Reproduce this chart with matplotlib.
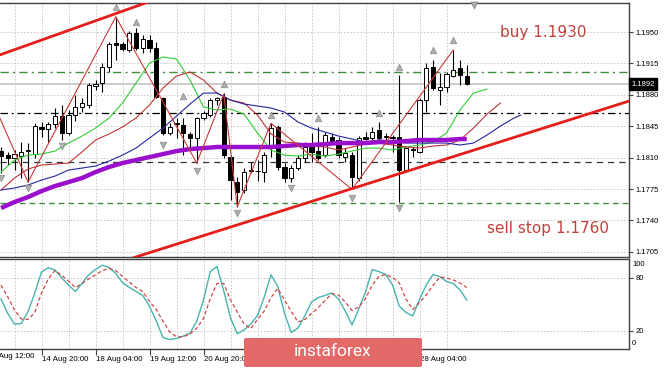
import numpy as np
import matplotlib
matplotlib.use("Agg")
import matplotlib.pyplot as plt
from matplotlib import transforms
from matplotlib.patches import FancyBboxPatch

plt.rcParams['font.family'] = ['Liberation Sans', 'DejaVu Sans']

# H4 candles
opens = [1.18177, 1.18129, 1.18099, 1.18122, 1.18177, 1.18137, 1.18445, 1.18419, 1.18472, 1.18564,
         1.18375, 1.18575, 1.18668, 1.18687, 1.18898, 1.18929, 1.19114, 1.19374, 1.19367, 1.19300,
         1.19486, 1.19319, 1.19411, 1.19319, 1.18761, 1.18371, 1.18480, 1.18464, 1.18364, 1.18316,
         1.18538, 1.18575, 1.18742, 1.18779, 1.18110, 1.17832, 1.17739, 1.17957, 1.17953, 1.17943,
         1.18222, 1.18445, 1.17999, 1.17870, 1.17988, 1.18093, 1.18222, 1.18174, 1.18129, 1.18333,
         1.18297, 1.18110, 1.18129, 1.17870, 1.18333, 1.18316, 1.18408, 1.18333, 1.18325, 1.18333,
         1.17962, 1.18188, 1.18166, 1.18742, 1.19114, 1.18854, 1.18891, 1.19010, 1.19096, 1.19010]
highs = [1.18222, 1.18166, 1.18185, 1.18278, 1.18263, 1.18486, 1.18501, 1.18501, 1.18653, 1.18687,
         1.18631, 1.18798, 1.18765, 1.18932, 1.18965, 1.19155, 1.19392, 1.19671, 1.19392, 1.19512,
         1.19545, 1.19467, 1.19467, 1.19392, 1.18779, 1.18483, 1.18542, 1.18542, 1.18389, 1.18556,
         1.18620, 1.18765, 1.18779, 1.18820, 1.18129, 1.17888, 1.17981, 1.18055, 1.18074, 1.18166,
         1.18483, 1.18464, 1.18037, 1.18018, 1.18129, 1.18278, 1.18375, 1.18442, 1.18389, 1.18371,
         1.18333, 1.18204, 1.18166, 1.18341, 1.18389, 1.18445, 1.18501, 1.18371, 1.18352, 1.19021,
         1.18222, 1.18222, 1.18761, 1.19155, 1.19188, 1.19040, 1.19055, 1.19300, 1.19188, 1.19133]
lows = [1.17929, 1.18018, 1.17962, 1.17873, 1.17828, 1.18096, 1.18333, 1.18278, 1.18430, 1.18297,
        1.18352, 1.18508, 1.18612, 1.18657, 1.18854, 1.18835, 1.19058, 1.19188, 1.19294, 1.19281,
        1.19300, 1.19266, 1.19281, 1.18765, 1.18352, 1.18352, 1.18319, 1.18129, 1.18207, 1.18040,
        1.18520, 1.18556, 1.18687, 1.18096, 1.17628, 1.17553, 1.17706, 1.17926, 1.17840, 1.17832,
        1.18110, 1.17962, 1.17832, 1.17832, 1.17962, 1.18055, 1.18055, 1.18074, 1.18110, 1.18278,
        1.18093, 1.18055, 1.17747, 1.17840, 1.18297, 1.18297, 1.18278, 1.18297, 1.18166, 1.17609,
        1.17943, 1.18110, 1.18148, 1.18612, 1.18854, 1.18687, 1.18835, 1.19002, 1.18910, 1.18910]
closes = [1.18122, 1.18093, 1.18140, 1.18166, 1.18185, 1.18456, 1.18419, 1.18472, 1.18567, 1.18371,
          1.18575, 1.18668, 1.18706, 1.18910, 1.18921, 1.19114, 1.19363, 1.19355, 1.19311, 1.19486,
          1.19319, 1.19419, 1.19319, 1.18779, 1.18371, 1.18445, 1.18492, 1.18371, 1.18316, 1.18545,
          1.18601, 1.18742, 1.18765, 1.18129, 1.17851, 1.17720, 1.17943, 1.17965, 1.17946, 1.18129,
          1.18427, 1.17999, 1.17870, 1.17988, 1.18099, 1.18222, 1.18166, 1.18099, 1.18352, 1.18285,
          1.18129, 1.18148, 1.17888, 1.18322, 1.18308, 1.18389, 1.18322, 1.18340, 1.18318, 1.17962,
          1.18204, 1.18197, 1.18742, 1.19096, 1.18873, 1.18891, 1.19029, 1.19077, 1.19021, 1.18917]

# alligator lines (shifted forward) and the slow MA, every second bar
lips = [1.17940, 1.18074, 1.18129, 1.18140, 1.18174, 1.18263, 1.18341, 1.18430, 1.18542, 1.18709,
        1.18932, 1.19155, 1.19222, 1.19199, 1.18965, 1.18664, 1.18631, 1.18642, 1.18586, 1.18375,
        1.18185, 1.18129, 1.18118, 1.18140, 1.18118, 1.18140, 1.18174, 1.18207, 1.18207, 1.18185,
        1.18219, 1.18241, 1.18274, 1.18375, 1.18631, 1.18820, 1.18865]
teeth = [1.17739, 1.17873, 1.17973, 1.18018, 1.18029, 1.18040, 1.18163, 1.18297, 1.18364, 1.18442,
         1.18542, 1.18687, 1.18876, 1.19010, 1.19055, 1.18965, 1.18820, 1.18742, 1.18709, 1.18575,
         1.18364, 1.18274, 1.18263, 1.18230, 1.18219, 1.18185, 1.18219, 1.18252, 1.18263, 1.18241,
         1.18219, 1.18207, 1.18230, 1.18241, 1.18297, 1.18430, 1.18586, 1.18709]
jaw = [1.17739, 1.17762, 1.17795, 1.17851, 1.17895, 1.17962, 1.17984, 1.18007, 1.18062, 1.18129,
       1.18207, 1.18319, 1.18430, 1.18564, 1.18698, 1.18820, 1.18820, 1.18742, 1.18698, 1.18676,
       1.18653, 1.18609, 1.18497, 1.18430, 1.18386, 1.18341, 1.18308, 1.18274, 1.18297, 1.18285,
       1.18263, 1.18263, 1.18263, 1.18263, 1.18241, 1.18263, 1.18352, 1.18453, 1.18542, 1.18575]
slow_ma = [1.17539, 1.17606, 1.17661, 1.17728, 1.17784, 1.17828, 1.17873, 1.17940, 1.17996, 1.18040,
           1.18074, 1.18107, 1.18140, 1.18174, 1.18196, 1.18207, 1.18219, 1.18219, 1.18219, 1.18219,
           1.18219, 1.18230, 1.18241, 1.18241, 1.18252, 1.18263, 1.18263, 1.18263, 1.18274, 1.18274,
           1.18285, 1.18297, 1.18297, 1.18297, 1.18308, 1.18308]

zz_bar = [-2, 4, 17, 29, 33, 35, 40, 52, 67]
zz_price = [1.18855, 1.17828, 1.19671, 1.18040, 1.18809, 1.17553, 1.18483, 1.17747, 1.19300]

frac_up_bar = [17, 20, 27, 33, 40, 47, 56, 59, 64, 67]
frac_up = [1.19779, 1.19612, 1.18787, 1.18921, 1.18575, 1.18542, 1.18598, 1.19110, 1.19300, 1.19411]
frac_dn_bar = [0, 4, 9, 24, 29, 35, 43, 52, 59]
frac_dn = [1.17873, 1.17762, 1.18230, 1.18241, 1.17951, 1.17483, 1.17762, 1.17650, 1.17539]

stoch_main = [56.0, 39.7, 27.8, 28.4, 41.7, 62.8, 86.5, 91.3, 88.7, 79.7,
              71.8, 64.5, 73.5, 83.4, 89.3, 94.1, 91.5, 84.8, 74.4, 69.2,
              64.5, 60.0, 47.6, 31.2, 12.6, 10.4, 11.5, 14.3, 17.4, 31.2,
              54.9, 87.0, 92.7, 65.1, 34.6, 16.9, 21.1, 27.8, 37.4, 58.3,
              83.4, 70.1, 39.7, 18.3, 23.3, 36.9, 52.6, 57.7, 60.0, 62.8,
              56.0, 42.5, 26.7, 44.8, 63.9, 89.3, 86.8, 83.7, 71.8, 48.1,
              40.8, 36.9, 55.5, 71.8, 83.7, 81.2, 75.8, 73.5, 66.2, 54.9]
stoch_signal = [71.8, 58.3, 43.6, 33.5, 32.9, 40.8, 62.8, 78.6, 88.2, 82.5,
                76.3, 69.0, 73.5, 78.6, 83.1, 88.2, 90.4, 87.9, 81.4, 75.2,
                69.0, 64.5, 53.2, 44.2, 31.2, 18.8, 13.5, 13.5, 16.6, 23.3,
                34.0, 56.6, 73.5, 73.5, 54.9, 41.4, 27.8, 22.8, 32.9, 42.5,
                57.7, 67.9, 54.9, 41.9, 30.1, 32.9, 39.7, 46.4, 54.3, 62.0,
                60.5, 52.6, 43.1, 47.0, 56.6, 71.8, 81.4, 83.7, 80.3, 74.1,
                56.0, 44.2, 52.1, 60.5, 71.3, 80.8, 79.7, 77.5, 74.1, 69.0]

price_ticks = [1.1705, 1.1740, 1.1775, 1.1810, 1.1845, 1.1880, 1.1915, 1.1950]
date_bar = [-2, 6, 14, 22, 30, 38, 46, 54, 62]
# 24/25/26 Aug sit under the logo and cannot be seen in the chart
date_labels = ['13 Aug 12:00', '14 Aug 20:00', '18 Aug 04:00', '19 Aug 12:00', '20 Aug 20:00',
               '', '', '', '28 Aug 04:00']
buy_level = 1.1906
last_price = 1.1892
level_mid = 1.1860
level_low = 1.1805
sell_level = 1.1760

fig = plt.figure(figsize=(6.65, 3.69), dpi=100)
ax = fig.add_axes([0, 0.3035, 0.9459, 0.6884])
osc = fig.add_axes([0, 0.0542, 0.9459, 0.2439], sharex=ax)

o = np.array(opens); h = np.array(highs); l = np.array(lows); c = np.array(closes)
bars = np.arange(len(c))
up = c >= o
body = np.maximum(np.abs(c - o), 0.00003)

ax.vlines(bars, l, h, color='black', lw=0.8, zorder=2)
ax.bar(bars[up], body[up], bottom=o[up], width=0.6, facecolor='white',
       edgecolor='black', lw=0.7, zorder=3)
ax.bar(bars[~up], body[~up], bottom=c[~up], width=0.6, facecolor='black',
       edgecolor='black', lw=0.7, zorder=3)

ax.plot(np.arange(0, 2 * len(lips), 2), lips, color='#33cc33', lw=0.8, zorder=4)
ax.plot(np.arange(0, 2 * len(teeth), 2), teeth, color='#c03434', lw=0.8, zorder=4)
ax.plot(np.r_[np.arange(0, 2 * (len(jaw) - 1), 2), 77], jaw, color='#2626a0', lw=0.8, zorder=4)
ax.plot(np.r_[np.arange(0, 2 * (len(slow_ma) - 1), 2), 69], slow_ma, color='#9a10cc',
        lw=3.2, solid_capstyle='butt', zorder=4)
ax.plot(zz_bar, zz_price, color='#c83a3a', lw=0.8, zorder=4)

# channel
ax.plot([0, 22], [1.1925, 1.1984], color='#e41e1a', lw=2.0, zorder=5)
ax.plot([19, 93], [1.1697, 1.1873], color='#e41e1a', lw=2.0, zorder=5)

ax.scatter(frac_up_bar, frac_up, marker='^', s=22, color='#b0b0b0', edgecolors='#8a8a8a',
           linewidths=0.5, zorder=6)
ax.scatter(frac_dn_bar, frac_dn, marker='v', s=22, color='#b0b0b0', edgecolors='#8a8a8a',
           linewidths=0.5, zorder=6)
ax.scatter([70], [1.1980], marker='v', s=26, color='#a8a8a8', edgecolors='#8a8a8a',
           linewidths=0.5, zorder=6, clip_on=False)

ax.axhline(buy_level, color='#3d8f3d', lw=1.0, ls=(0, (6, 3, 1.5, 3)), zorder=1.5)
ax.axhline(last_price, color='#c4c4c4', lw=1.2, zorder=1.5)
ax.axhline(level_mid, color='black', lw=0.9, ls=(0, (6, 3, 1.5, 3)), zorder=1.5)
ax.axhline(level_low, color='#333333', lw=0.9, ls=(0, (5, 4)), zorder=1.5)
ax.axhline(sell_level, color='#3d8f3d', lw=1.0, ls=(0, (4, 3)), zorder=1.5)

ax.text(80.3, 1.1950, 'buy 1.1930', color='#c0403a', fontsize=11, family='DejaVu Sans',
        ha='center', va='center', zorder=7)
ax.text(81.0, 1.17316, 'sell stop 1.1760', color='#c0403a', fontsize=11, family='DejaVu Sans',
        ha='center', va='center', zorder=7)

ax.set_xlim(-0.15, 93.04)
ax.set_ylim(1.16993, 1.19824)
ax.yaxis.tick_right()
ax.set_yticks(price_ticks)
ax.set_yticklabels(['%.4f' % v for v in price_ticks])
ax.tick_params(axis='y', labelsize=5.5, length=3, pad=1.5, color='#404040')
ax.tick_params(axis='x', which='both', length=0, labelbottom=False)

tr = transforms.blended_transform_factory(ax.transAxes, ax.transData)
ax.text(1.004, last_price, '%.4f' % last_price, transform=tr, color='white', fontsize=5.5,
        ha='left', va='center', zorder=8,
        bbox=dict(facecolor='black', edgecolor='black', boxstyle='square,pad=0.3'))

# stochastic
osc.plot(bars, stoch_main, color='#48b4b0', lw=1.0, zorder=3)
osc.plot(bars, stoch_signal, color='#d04848', lw=0.9, ls=(0, (3, 2)), zorder=3)
osc.set_ylim(-0.3, 101.1)
osc.yaxis.tick_right()
osc.set_yticks([20, 80])
osc.set_yticklabels(['20', '80'])
osc.tick_params(axis='y', labelsize=5.5, length=3, pad=1.5, color='#404040')
otr = transforms.blended_transform_factory(osc.transAxes, osc.transData)
osc.text(1.005, 94.4, '100', transform=otr, fontsize=5.5, ha='left', va='center')
osc.text(1.005, 6.4, '0', transform=otr, fontsize=5.5, ha='left', va='center')

osc.set_xticks(date_bar[1:])
osc.set_xticklabels(date_labels[1:], ha='left')
osc.set_xticks([b + 4 for b in date_bar], minor=True)
osc.tick_params(axis='x', which='major', labelsize=5.7, length=4, pad=1, color='#404040')
osc.tick_params(axis='x', which='minor', length=0)
btr = transforms.blended_transform_factory(osc.transData, osc.transAxes)
osc.text(date_bar[0], -0.045, date_labels[0], transform=btr, fontsize=5.7, ha='left', va='top',
         clip_on=False)

for a in (ax, osc):
    a.grid(True, which='both', color='#c4c4c4', lw=0.6, ls=(0, (2, 2)), zorder=0)
    a.set_axisbelow(True)
    for s in a.spines.values():
        s.set_color('#404040')
        s.set_linewidth(1.0)
    a.spines['left'].set_visible(False)
osc.grid(False, which='both', axis='y')
osc.grid(True, which='major', axis='y', color='#c4c4c4', lw=0.6, ls=(0, (2, 2)))

logo = FancyBboxPatch((244 / 665, 2 / 369), 178 / 665, 29 / 369,
                      boxstyle='round,pad=0,rounding_size=0.004', transform=fig.transFigure,
                      facecolor='#e36868', edgecolor='none', zorder=10)
fig.patches.append(logo)
fig.text(333 / 665, 1 - 352 / 369, 'instaforex', color='white', fontsize=12.5, family='Roboto',
         ha='center', va='center', zorder=11)

fig.savefig('out.png', dpi=100)
